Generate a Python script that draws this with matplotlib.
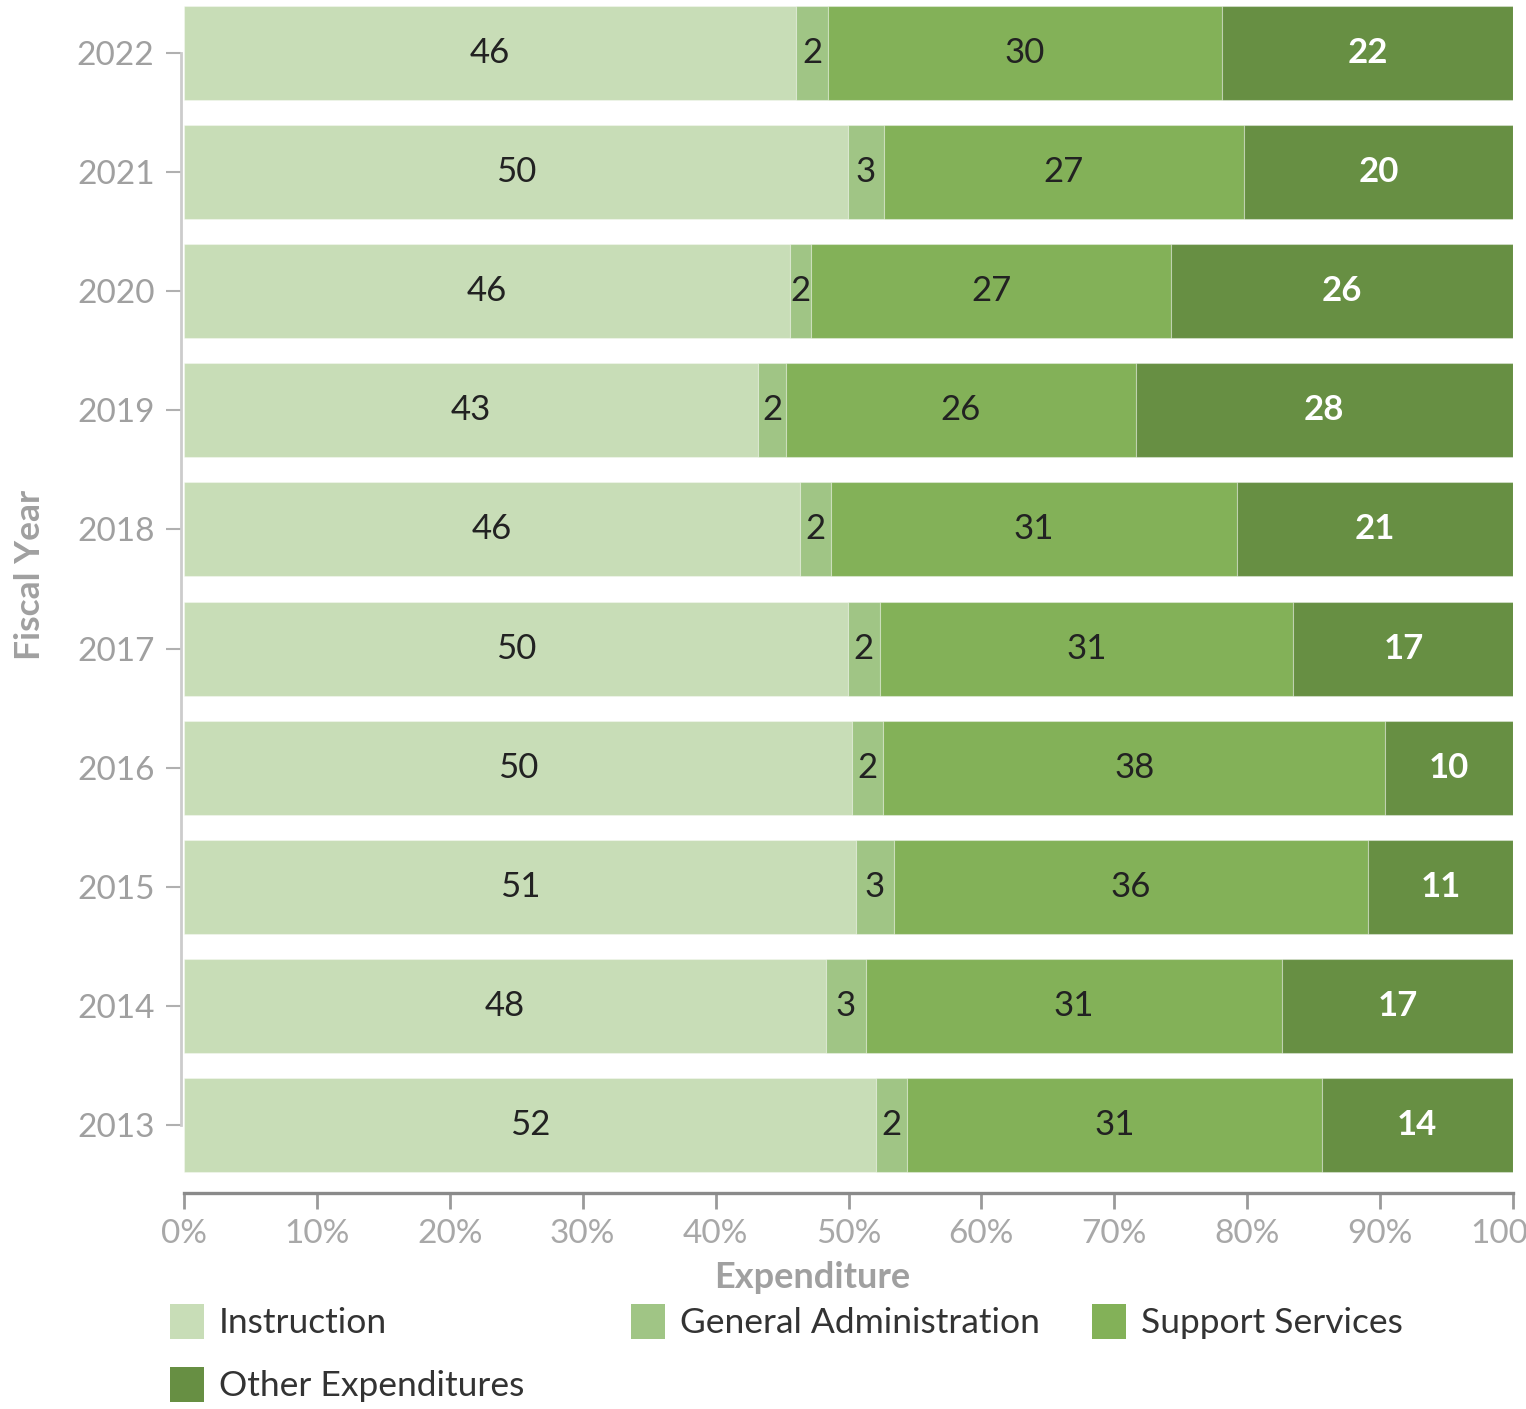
import matplotlib
matplotlib.use("Agg")
import matplotlib.pyplot as plt
from matplotlib.patches import Rectangle
import numpy as np

plt.rcParams['font.family'] = ['Lato', 'DejaVu Sans']

years = ["2013", "2014", "2015", "2016", "2017", "2018", "2019", "2020", "2021", "2022"]
categories = ["Instruction", "General Administration", "Support Services", "Other Expenditures"]
instruction = [52.1, 48.3, 50.6, 50.3, 49.96, 46.35, 43.2, 45.6, 49.96, 46.05]
general_admin = [2.3, 3.0, 2.8, 2.3, 2.4, 2.3, 2.1, 1.6, 2.7, 2.4]
support_services = [31.2, 31.3, 35.7, 37.8, 31.1, 30.6, 26.3, 27.1, 27.1, 29.65]
other_expend = [14.4, 17.4, 10.9, 9.6, 16.6, 20.75, 28.4, 25.7, 20.24, 21.9]
xticks = [0, 10, 20, 30, 40, 50, 60, 70, 80, 90, 100]
xtick_labels = ["0%", "10%", "20%", "30%", "40%", "50%", "60%", "70%", "80%", "90%", "100%"]

colors = ["#c8ddb7", "#a0c585", "#83b158", "#678f43"]
label_colors = ["#222222", "#222222", "#222222", "#ffffff"]

W, H = 1526, 1409
fig = plt.figure(figsize=(W / 100, H / 100), dpi=100)
ax = fig.add_axes([184 / W, (H - 1193) / H, (1513 - 184) / W, 1193 / H])

series = [instruction, general_admin, support_services, other_expend]
y = np.arange(len(years))
left = np.zeros(len(years))
for vals, col, lc in zip(series, colors, label_colors):
    vals = np.array(vals)
    bars = ax.barh(y, vals, left=left, height=0.79, color=col,
                   edgecolor=(1, 1, 1, 0.35), linewidth=0.8)
    for b, v in zip(bars, vals):
        ax.text(b.get_x() + b.get_width() / 2, b.get_y() + b.get_height() / 2,
                f"{int(round(v))}", ha="center", va="center", fontsize=25,
                color=lc, fontweight="bold" if lc == "#ffffff" else "normal")
    left += vals

ax.set_xlim(0, 100)
ax.set_ylim(-0.571, 9.445)
ax.set_yticks(y)
ax.set_yticklabels(years)
ax.set_xticks(xticks)
ax.set_xticklabels(xtick_labels)

for s in ["top", "right"]:
    ax.spines[s].set_visible(False)
ax.spines["left"].set_position(("outward", 2.2))
ax.spines["left"].set_bounds(0, 9)
ax.spines["left"].set_color("#cccccc")
ax.spines["left"].set_linewidth(2.0)
ax.spines["bottom"].set_bounds(0, 100)
ax.spines["bottom"].set_color("#8a8a8a")
ax.spines["bottom"].set_linewidth(2.4)

ax.tick_params(axis="y", length=11, width=1.5, color="#b0b0b0",
               labelcolor="#a0a0a0", labelsize=24, pad=8)
ax.tick_params(axis="x", length=11.5, width=2.0, color="#9a9a9a",
               labelcolor="#a8a8a8", labelsize=24, pad=7)

fig.text(812 / W, 1 - 1277 / H, "Expenditure", ha="center", va="center",
         fontsize=26, fontweight="bold", color="#a0a0a0")
fig.text(30 / W, 1 - 575 / H, "Fiscal Year", ha="center", va="center",
         rotation=90, fontsize=25.5, fontweight="bold", color="#a0a0a0")

legend_pos = [(170, 1321), (631, 1321), (1092, 1321), (170, 1384)]
for (px, py), col, name in zip(legend_pos, colors, categories):
    fig.add_artist(Rectangle((px / W, 1 - (py + 17.5) / H), 34 / W, 35 / H,
                             transform=fig.transFigure, facecolor=col,
                             edgecolor="none"))
    fig.text((px + 49) / W, 1 - (py + 2) / H, name, ha="left", va="center",
             fontsize=25.5, color="#333333")

fig.savefig("out.png", dpi=100)
